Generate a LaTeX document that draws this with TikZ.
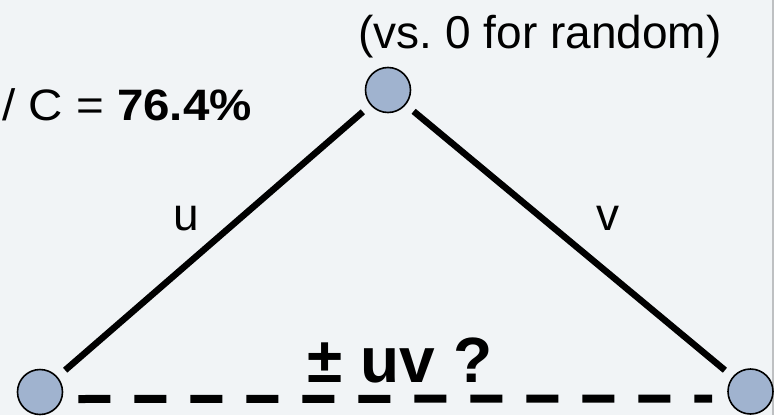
\documentclass[tikz,border=0pt]{standalone}
\usepackage{fontspec}
\setmainfont{Liberation Sans}
\definecolor{bgc}{RGB}{241,244,246}
\definecolor{nodefill}{RGB}{160,179,207}
\definecolor{edgegray}{RGB}{190,192,194}
\frenchspacing
\begin{document}
\begin{tikzpicture}[x=1pt,y=-1pt,
  vertex/.style={circle,draw=black,line width=1.6pt,fill=nodefill,minimum size=45pt,inner sep=0pt},
  edge/.style={line width=6.5pt,shorten >=10pt,shorten <=10pt},
  dashline/.style={line width=8pt,dash pattern=on 32pt off 24pt},
  lbl/.style={inner sep=0pt,anchor=base}]
\useasboundingbox (0,0) rectangle (776,415);
\fill[bgc] (0,0) rectangle (773,415);
\draw[edgegray,line width=2pt] (773,0) -- (773,415);
\begin{scope}
\clip (0,0) rectangle (776,415);
\node[vertex] (T) at (388,90) {};
\node[vertex] (L) at (40,392) {};
\node[vertex] (R) at (750.5,391.5) {};
\draw[edge] (T) -- (L);
\draw[edge] (T) -- (R);
\draw[dashline] ([shift={(15pt,-7pt)}]L.east) -- ([shift={(-15pt,-7pt)}]R.west);
\end{scope}
\node[lbl] (top) at (540,48) {\fontsize{46}{46}\selectfont (vs. 0 for random)};
\node[lbl,anchor=base east] (acc) at (252,120) {\scalebox{1.08}[1]{\fontsize{44}{44}\selectfont / C = \textbf{76.4\%}}};
\node[lbl] (u) at (186,230) {\fontsize{46}{46}\selectfont u};
\node[lbl] (v) at (608,230) {\fontsize{46}{46}\selectfont v};
\node[lbl] (uv) at (400,382) {\fontsize{64}{64}\selectfont\bfseries ± uv ?};
\end{tikzpicture}
\end{document}
